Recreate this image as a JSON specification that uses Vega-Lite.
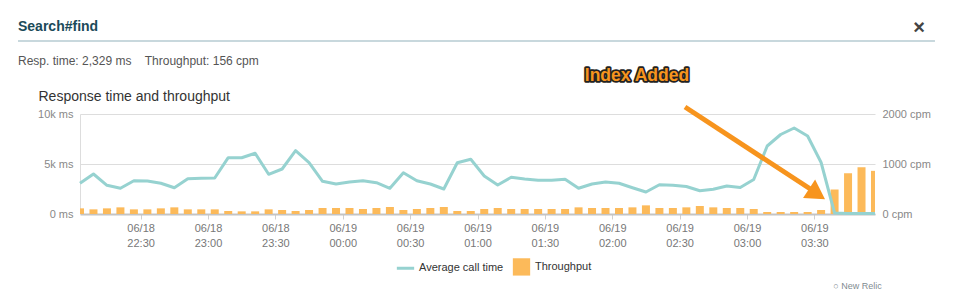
{
  "$schema": "https://vega.github.io/schema/vega-lite/v6.json",
  "width": 795,
  "height": 100,
  "autosize": "none",
  "padding": {"left": 80, "top": 114, "right": 78, "bottom": 80},
  "background": "white",
  "title": {
    "text": "Search#find",
    "subtitle": "Resp. time:\u00a02,329 ms\u00a0\u00a0\u00a0\u00a0Throughput:\u00a0156 cpm",
    "anchor": "start",
    "frame": "group",
    "dx": -62,
    "offset": -50,
    "font": "Liberation Sans",
    "fontSize": 14,
    "fontWeight": "bold",
    "color": "#1b4a59",
    "subtitleFont": "Liberation Sans",
    "subtitleFontSize": 12,
    "subtitleColor": "#555555",
    "subtitlePadding": 22
  },
  "data": {
    "values": [
      {"t": "2013-06-18T22:03:00Z", "ms": 3070, "cpm": 113},
      {"t": "2013-06-18T22:09:00Z", "ms": 4000, "cpm": 93},
      {"t": "2013-06-18T22:15:00Z", "ms": 2870, "cpm": 113},
      {"t": "2013-06-18T22:21:00Z", "ms": 2570, "cpm": 133},
      {"t": "2013-06-18T22:27:00Z", "ms": 3330, "cpm": 93},
      {"t": "2013-06-18T22:33:00Z", "ms": 3300, "cpm": 93},
      {"t": "2013-06-18T22:39:00Z", "ms": 3070, "cpm": 113},
      {"t": "2013-06-18T22:45:00Z", "ms": 2630, "cpm": 133},
      {"t": "2013-06-18T22:51:00Z", "ms": 3530, "cpm": 93},
      {"t": "2013-06-18T22:57:00Z", "ms": 3570, "cpm": 93},
      {"t": "2013-06-18T23:03:00Z", "ms": 3600, "cpm": 93},
      {"t": "2013-06-18T23:09:00Z", "ms": 5630, "cpm": 60},
      {"t": "2013-06-18T23:15:00Z", "ms": 5630, "cpm": 53},
      {"t": "2013-06-18T23:21:00Z", "ms": 6070, "cpm": 53},
      {"t": "2013-06-18T23:27:00Z", "ms": 3970, "cpm": 93},
      {"t": "2013-06-18T23:33:00Z", "ms": 4500, "cpm": 80},
      {"t": "2013-06-18T23:39:00Z", "ms": 6330, "cpm": 60},
      {"t": "2013-06-18T23:45:00Z", "ms": 5130, "cpm": 80},
      {"t": "2013-06-18T23:51:00Z", "ms": 3270, "cpm": 120},
      {"t": "2013-06-18T23:57:00Z", "ms": 3000, "cpm": 120},
      {"t": "2013-06-19T00:03:00Z", "ms": 3200, "cpm": 120},
      {"t": "2013-06-19T00:09:00Z", "ms": 3330, "cpm": 100},
      {"t": "2013-06-19T00:15:00Z", "ms": 3130, "cpm": 120},
      {"t": "2013-06-19T00:21:00Z", "ms": 2570, "cpm": 140},
      {"t": "2013-06-19T00:27:00Z", "ms": 4130, "cpm": 80},
      {"t": "2013-06-19T00:33:00Z", "ms": 3330, "cpm": 100},
      {"t": "2013-06-19T00:39:00Z", "ms": 3000, "cpm": 120},
      {"t": "2013-06-19T00:45:00Z", "ms": 2500, "cpm": 140},
      {"t": "2013-06-19T00:51:00Z", "ms": 5130, "cpm": 60},
      {"t": "2013-06-19T00:57:00Z", "ms": 5470, "cpm": 60},
      {"t": "2013-06-19T01:03:00Z", "ms": 3800, "cpm": 100},
      {"t": "2013-06-19T01:09:00Z", "ms": 2900, "cpm": 120},
      {"t": "2013-06-19T01:15:00Z", "ms": 3670, "cpm": 100},
      {"t": "2013-06-19T01:21:00Z", "ms": 3500, "cpm": 100},
      {"t": "2013-06-19T01:27:00Z", "ms": 3370, "cpm": 100},
      {"t": "2013-06-19T01:33:00Z", "ms": 3370, "cpm": 100},
      {"t": "2013-06-19T01:39:00Z", "ms": 3470, "cpm": 100},
      {"t": "2013-06-19T01:45:00Z", "ms": 2570, "cpm": 133},
      {"t": "2013-06-19T01:51:00Z", "ms": 3000, "cpm": 120},
      {"t": "2013-06-19T01:57:00Z", "ms": 3200, "cpm": 120},
      {"t": "2013-06-19T02:03:00Z", "ms": 3070, "cpm": 120},
      {"t": "2013-06-19T02:09:00Z", "ms": 2630, "cpm": 133},
      {"t": "2013-06-19T02:15:00Z", "ms": 2200, "cpm": 173},
      {"t": "2013-06-19T02:21:00Z", "ms": 2930, "cpm": 120},
      {"t": "2013-06-19T02:27:00Z", "ms": 2870, "cpm": 120},
      {"t": "2013-06-19T02:33:00Z", "ms": 2750, "cpm": 133},
      {"t": "2013-06-19T02:39:00Z", "ms": 2330, "cpm": 160},
      {"t": "2013-06-19T02:45:00Z", "ms": 2470, "cpm": 133},
      {"t": "2013-06-19T02:51:00Z", "ms": 2800, "cpm": 120},
      {"t": "2013-06-19T02:57:00Z", "ms": 2650, "cpm": 120},
      {"t": "2013-06-19T03:03:00Z", "ms": 3450, "cpm": 100},
      {"t": "2013-06-19T03:09:00Z", "ms": 6800, "cpm": 40},
      {"t": "2013-06-19T03:15:00Z", "ms": 7950, "cpm": 40},
      {"t": "2013-06-19T03:21:00Z", "ms": 8600, "cpm": 40},
      {"t": "2013-06-19T03:27:00Z", "ms": 7800, "cpm": 40},
      {"t": "2013-06-19T03:33:00Z", "ms": 5150, "cpm": 80},
      {"t": "2013-06-19T03:39:00Z", "ms": 100, "cpm": 490},
      {"t": "2013-06-19T03:45:00Z", "ms": 50, "cpm": 815},
      {"t": "2013-06-19T03:51:00Z", "ms": 50, "cpm": 935},
      {"t": "2013-06-19T03:57:00Z", "ms": 50, "cpm": 863}
    ]
  },
  "layer": [
    {
      "mark": {"type": "bar", "width": 8, "clip": true},
      "encoding": {
        "x": {
          "field": "t",
          "type": "temporal",
          "scale": {
            "type": "utc",
            "domain": [
              {"year": 2013, "month": 6, "date": 18, "hours": 22, "minutes": 3, "utc": true},
              {"year": 2013, "month": 6, "date": 19, "hours": 3, "minutes": 57, "utc": true}
            ],
            "nice": false,
            "padding": 0
          },
          "axis": {
            "orient": "bottom",
            "values": [
              {"year": 2013, "month": 6, "date": 18, "hours": 22, "minutes": 30, "utc": true},
              {"year": 2013, "month": 6, "date": 18, "hours": 23, "minutes": 0, "utc": true},
              {"year": 2013, "month": 6, "date": 18, "hours": 23, "minutes": 30, "utc": true},
              {"year": 2013, "month": 6, "date": 19, "hours": 0, "minutes": 0, "utc": true},
              {"year": 2013, "month": 6, "date": 19, "hours": 0, "minutes": 30, "utc": true},
              {"year": 2013, "month": 6, "date": 19, "hours": 1, "minutes": 0, "utc": true},
              {"year": 2013, "month": 6, "date": 19, "hours": 1, "minutes": 30, "utc": true},
              {"year": 2013, "month": 6, "date": 19, "hours": 2, "minutes": 0, "utc": true},
              {"year": 2013, "month": 6, "date": 19, "hours": 2, "minutes": 30, "utc": true},
              {"year": 2013, "month": 6, "date": 19, "hours": 3, "minutes": 0, "utc": true},
              {"year": 2013, "month": 6, "date": 19, "hours": 3, "minutes": 30, "utc": true}
            ],
            "labelExpr": "[utcFormat(datum.value, '%m/%d'), utcFormat(datum.value, '%H:%M')]",
            "labelFont": "Liberation Sans",
            "labelFontSize": 11,
            "labelColor": "#777777",
            "labelLineHeight": 15,
            "labelPadding": 3,
            "labelOverlap": false,
            "labelFlush": false,
            "tickColor": "#d0d0d0",
            "tickSize": 5,
            "domainColor": "#c4c4c4",
            "domainWidth": 2,
            "grid": false,
            "title": "\u25cb New Relic",
            "titleFont": "Liberation Sans",
            "titleFontSize": 9,
            "titleFontWeight": "normal",
            "titleColor": "#7f8c91",
            "titleX": 777,
            "titleY": 71,
            "titleAlign": "center",
            "titleBaseline": "middle"
          }
        },
        "y": {
          "field": "cpm",
          "type": "quantitative",
          "scale": {"domain": [0, 2000], "nice": false},
          "axis": {
            "orient": "right",
            "values": [0, 1000, 2000],
            "labelExpr": "datum.value + ' cpm'",
            "labelFont": "Liberation Sans",
            "labelFontSize": 11,
            "labelColor": "#888888",
            "labelPadding": 7,
            "ticks": false,
            "tickSize": 0,
            "domain": false,
            "grid": false,
            "title": "\u00d7",
            "titleFont": "Liberation Sans",
            "titleFontSize": 20,
            "titleFontWeight": "bold",
            "titleColor": "#444444",
            "titleAngle": 0,
            "titleX": 43.5,
            "titleY": -87,
            "titleAlign": "center",
            "titleBaseline": "middle"
          }
        },
        "color": {"datum": "Throughput"}
      }
    },
    {
      "layer": [
        {
          "mark": {"type": "line", "strokeWidth": 3, "strokeJoin": "round"},
          "encoding": {
            "x": {
              "field": "t",
              "type": "temporal",
              "scale": {
                "type": "utc",
                "domain": [
                  {"year": 2013, "month": 6, "date": 18, "hours": 22, "minutes": 3, "utc": true},
                  {"year": 2013, "month": 6, "date": 19, "hours": 3, "minutes": 57, "utc": true}
                ],
                "nice": false,
                "padding": 0
              },
              "axis": null
            },
            "y": {
              "field": "ms",
              "type": "quantitative",
              "scale": {"domain": [0, 10000], "nice": false},
              "axis": {
                "orient": "left",
                "values": [0, 5000, 10000],
                "labelExpr": "datum.value == 0 ? '0 ms' : (datum.value / 1000) + 'k ms'",
                "labelFont": "Liberation Sans",
                "labelFontSize": 11,
                "labelColor": "#888888",
                "labelPadding": 7,
                "ticks": false,
                "tickSize": 0,
                "domain": true,
                "domainColor": "#dddddd",
                "grid": true,
                "gridColor": "#dddddd",
                "title": "Response time and throughput",
                "titleFont": "Liberation Sans",
                "titleFontSize": 14,
                "titleFontWeight": "normal",
                "titleColor": "#333333",
                "titleAngle": 0,
                "titleX": -42,
                "titleY": -18,
                "titleAlign": "left",
                "titleBaseline": "middle"
              }
            },
            "color": {
              "datum": "Average call time",
              "scale": {"domain": ["Average call time", "Throughput"], "range": ["#96d2d0", "#fcba5a"]},
              "legend": {
                "orient": "none",
                "legendX": 320,
                "legendY": 147,
                "direction": "horizontal",
                "title": null,
                "labelFont": "Liberation Sans",
                "labelFontSize": 11,
                "labelColor": "#333333",
                "labelOffset": 8,
                "columnPadding": 8,
                "symbolSize": 300,
                "encode": {
                  "symbols": {
                    "update": {
                      "shape": {"signal": "datum.value === 'Throughput' ? 'square' : 'stroke'"},
                      "fill": {"signal": "datum.value === 'Throughput' ? '#fcba5a' : 'transparent'"},
                      "stroke": {"signal": "datum.value === 'Throughput' ? 'transparent' : '#96d2d0'"},
                      "strokeWidth": {"signal": "datum.value === 'Throughput' ? 0 : 3"},
                      "opacity": {"value": 1}
                    }
                  }
                }
              }
            }
          }
        },
        {
          "data": {"values": [{}]},
          "mark": {"type": "rule", "color": "#c8d8dd", "strokeWidth": 2},
          "encoding": {
            "x": {"datum": {"year": 2013, "month": 6, "date": 18, "hours": 21, "minutes": 35, "seconds": 24, "utc": true}, "type": "temporal", "axis": null},
            "x2": {"datum": {"year": 2013, "month": 6, "date": 19, "hours": 4, "minutes": 23, "seconds": 42, "utc": true}},
            "y": {"datum": 17300, "type": "quantitative", "axis": null}
          }
        },
        {
          "data": {"values": [{}]},
          "mark": {"type": "rule", "color": "#f7941d", "strokeWidth": 5},
          "encoding": {
            "x": {"datum": {"year": 2013, "month": 6, "date": 19, "hours": 2, "minutes": 32, "seconds": 24, "utc": true}, "type": "temporal", "axis": null},
            "x2": {"datum": {"year": 2013, "month": 6, "date": 19, "hours": 3, "minutes": 28, "seconds": 54, "utc": true}},
            "y": {"datum": 10700, "type": "quantitative", "axis": null},
            "y2": {"datum": 2400}
          }
        },
        {
          "data": {"values": [{}]},
          "mark": {"type": "point", "shape": "triangle-right", "size": 484, "angle": 33.3, "filled": true, "color": "#f7941d", "opacity": 1},
          "encoding": {
            "x": {"datum": {"year": 2013, "month": 6, "date": 19, "hours": 3, "minutes": 31, "seconds": 12, "utc": true}, "type": "temporal", "axis": null},
            "y": {"datum": 2000, "type": "quantitative", "axis": null}
          }
        },
        {
          "data": {"values": [{}]},
          "mark": {"type": "text", "text": "Index Added", "font": "Liberation Sans", "fontSize": 17.5, "fontWeight": "bold", "fill": "#222222", "stroke": "#222222", "strokeWidth": 3.5, "strokeJoin": "round", "align": "center", "baseline": "middle"},
          "encoding": {
            "x": {"datum": {"year": 2013, "month": 6, "date": 19, "hours": 2, "minutes": 11, "seconds": 0, "utc": true}, "type": "temporal", "axis": null},
            "y": {"datum": 13850, "type": "quantitative", "axis": null}
          }
        },
        {
          "data": {"values": [{}]},
          "mark": {"type": "text", "text": "Index Added", "font": "Liberation Sans", "fontSize": 17.5, "fontWeight": "bold", "fill": "#f7941d", "align": "center", "baseline": "middle"},
          "encoding": {
            "x": {"datum": {"year": 2013, "month": 6, "date": 19, "hours": 2, "minutes": 11, "seconds": 0, "utc": true}, "type": "temporal", "axis": null},
            "y": {"datum": 13850, "type": "quantitative", "axis": null}
          }
        }
      ],
      "resolve": {"axis": {"x": "independent", "y": "independent"}}
    }
  ],
  "resolve": {"scale": {"y": "independent"}, "axis": {"x": "independent", "y": "independent"}},
  "config": {
    "font": "Liberation Sans",
    "view": {"stroke": null}
  }
}
